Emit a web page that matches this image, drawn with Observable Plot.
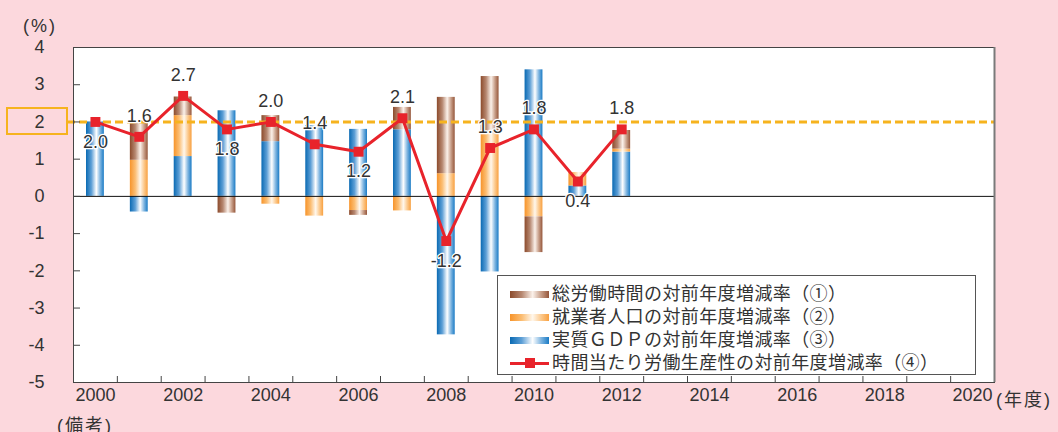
<!DOCTYPE html>
<html>
<head>
<meta charset="utf-8">
<script src="https://cdn.jsdelivr.net/npm/d3@7"></script>
<script src="https://cdn.jsdelivr.net/npm/@observablehq/plot@0.6"></script>
<style>
  html, body { margin: 0; padding: 0; background: #fcd8dd; }
  #wrap { position: relative; width: 1058px; height: 432px; overflow: hidden; background: #fcd8dd;
          font-family: "Liberation Sans", "Noto Sans CJK JP", sans-serif; color: #333; }
  #chart { position: absolute; left: 0; top: 0; }
  .note { position: absolute; font-size: 18px; line-height: 1; white-space: nowrap; color: #333;
          font-family: "Liberation Sans", "Noto Sans CJK JP", sans-serif; }
  #box2 { position: absolute; left: 6px; top: 107px; width: 58px; height: 24px; border: 2px solid #f6b31e; }
  #legend { position: absolute; left: 497px; top: 275px; width: 479px; height: 100px; background: #fff;
            border: 1px solid #555; box-sizing: border-box; }
  .row { position: absolute; left: 12px; height: 20px; display: flex; align-items: center; line-height: 1;
         font-family: "Liberation Sans", "Noto Sans CJK JP", sans-serif; font-size: 18px; letter-spacing: 0.4px; color: #333; white-space: nowrap; }
  .row span { line-height: 1; }
  .sw { width: 39px; height: 7px; margin-right: 3px; position: relative; }
  .sw.line { height: 3px; background: #e8232b; }
  .sw.line::after { content: ""; position: absolute; left: 15px; top: -4px; width: 10px; height: 10px; background: #e8232b; }
</style>
</head>
<body>
<div id="wrap">
  <div id="chart"></div>
  <div id="box2"></div>
  <div class="note" style="left:23px; top:17px; letter-spacing:2px;">(%)</div>
  <div class="note" style="left:996px; top:391px; letter-spacing:2px;">(年度)</div>
  <div class="note" style="left:57px; top:417px; letter-spacing:2px;">(備考)</div>
  <div id="legend"></div>
</div>
<script>
// ---- data ----
const years = [2000, 2001, 2002, 2003, 2004, 2005, 2006, 2007, 2008, 2009, 2010, 2011, 2012];
// ① 総労働時間の対前年度増減率 (as drawn)
const hoursChange     = [0, 1.0, 0.5, -0.45, 0.7, 0, -0.13, 0.6, 2.05, 1.54, -0.96, 0, 0.5];
// ② 就業者人口の対前年度増減率
const employeesChange = [0, 0.97, 1.1, 0, -0.21, -0.53, -0.38, -0.39, 0.61, 1.68, -0.55, 0.36, 0.08];
// ③ 実質GDPの対前年度増減率
const gdpChange       = [2.0, -0.42, 1.07, 2.3, 1.47, 1.9, 1.8, 1.79, -3.72, -2.03, 3.4, 0.28, 1.19];
// ④ 時間当たり労働生産性の対前年度増減率
const productivity    = [2.0, 1.6, 2.7, 1.8, 2.0, 1.4, 1.2, 2.1, -1.2, 1.3, 1.8, 0.4, 1.8];
const labelSide       = ["below","above","above","below","above","above","below","above","below","above","above","below","above"];
const targetLine = [2];
const xTickLabels = [2000, 2002, 2004, 2006, 2008, 2010, 2012, 2014, 2016, 2018, 2020];
const yTickLabels = [4, 3, 2, 1, 0, -1, -2, -3, -4, -5];
const seriesNames = [
  "実質ＧＤＰの対前年度増減率（③）",
  "就業者人口の対前年度増減率（②）",
  "総労働時間の対前年度増減率（①）"
];
const lineName = "時間当たり労働生産性の対前年度増減率（④）";

// ---- build tables ----
const barRows = [];
years.forEach((y, i) => {
  [[seriesNames[0], gdpChange[i]], [seriesNames[1], employeesChange[i]], [seriesNames[2], hoursChange[i]]]
    .forEach(([s, v]) => { if (v !== 0) barRows.push({year: y, series: s, value: v}); });
});
const lineRows = years.map((y, i) => ({year: y, value: productivity[i], side: labelSide[i]}));

const RED = "#e8232b";
const ORANGE = "#f6b31e";
const FONT = "'Liberation Sans', 'Noto Sans CJK JP', sans-serif";

const plot = Plot.plot({
  width: 1058,
  height: 432,
  marginLeft: 73,
  marginRight: 64,
  marginTop: 47,
  marginBottom: 50,
  style: {background: "transparent", fontFamily: FONT, fontSize: "18px", color: "#333", overflow: "visible"},
  x: {domain: [2000, 2021], axis: null},
  y: {domain: [-5, 4], axis: null},
  color: {domain: seriesNames, range: ["url(#gBlue)", "url(#gOrange)", "url(#gBrown)"]},
  marks: [
    Plot.frame({fill: "white", stroke: null}),
    Plot.rectY(barRows, {x: "year", interval: 1, y: "value", fill: "series", insetLeft: 13, insetRight: 13}),
    Plot.ruleY([0], {stroke: "#111", strokeWidth: 1}),
    Plot.ruleY(targetLine, {stroke: ORANGE, strokeWidth: 3, strokeDasharray: "8,4", insetLeft: -6}),
    Plot.line(lineRows, {x: d => d.year + 0.5, y: "value", stroke: RED, strokeWidth: 3}),
    Plot.dot(lineRows, {x: d => d.year + 0.5, y: "value", symbol: "square", r: 5.6, fill: RED, stroke: null}),
    Plot.text(lineRows.filter(d => d.side === "above"), {
      x: d => d.year + 0.5, y: "value", text: d => d.value.toFixed(1), dy: -21,
      fontSize: 18, fill: "#333", stroke: "white", strokeWidth: 2.5
    }),
    Plot.text(lineRows.filter(d => d.side === "below"), {
      x: d => d.year + 0.5, y: "value", text: d => d.value.toFixed(1), dy: 20,
      fontSize: 18, fill: "#333", stroke: "white", strokeWidth: 2.5
    }),
    // axes
    Plot.tickY(yTickLabels, {y: d => d, insetRight: 914, stroke: "#444"}),
    Plot.tickX(d3.range(2001, 2021), {x: d => d, insetTop: 329, stroke: "#444"}),
    Plot.frame({stroke: "#444"}),
    Plot.ruleX([2021], {stroke: "#7a7a7a", strokeWidth: 2}),
    Plot.text(yTickLabels, {y: d => d, text: d => String(d), frameAnchor: "left", textAnchor: "end", dx: -29, fontSize: 18, fill: "#333"}),
    Plot.text(xTickLabels, {x: d => d + 0.5, text: d => String(d), frameAnchor: "bottom", dy: 18, fontSize: 18, fill: "#333"})
  ]
});

document.getElementById("chart").appendChild(plot);

// gradients for cylinder-like bars
const defs = d3.select(plot).insert("defs", ":first-child");
function grad(id, stops) {
  const g = defs.append("linearGradient").attr("id", id).attr("x1", 0).attr("x2", 1).attr("y1", 0).attr("y2", 0);
  stops.forEach(([o, c]) => g.append("stop").attr("offset", o).attr("stop-color", c));
}
grad("gBlue",   [[0, "#0a6ab3"], [0.3, "#5d9fd6"], [0.58, "#ffffff"], [0.8, "#7db4e0"], [1, "#1a7bc5"]]);
grad("gOrange", [[0, "#f7942a"], [0.3, "#fbbd72"], [0.58, "#fff7ec"], [0.8, "#fcc98c"], [1, "#f8a040"]]);
grad("gBrown",  [[0, "#8c4b2c"], [0.3, "#b68770"], [0.58, "#fbf1ea"], [0.8, "#c79d87"], [1, "#95563a"]]);

// legend
const legendItems = [
  {name: seriesNames[2], css: "linear-gradient(to right,#8c4b2c,#b68770 30%,#fbf1ea 58%,#c79d87 80%,#95563a)"},
  {name: seriesNames[1], css: "linear-gradient(to right,#f7942a,#fbbd72 30%,#fff7ec 58%,#fcc98c 80%,#f8a040)"},
  {name: seriesNames[0], css: "linear-gradient(to right,#0a6ab3,#5d9fd6 30%,#ffffff 58%,#7db4e0 80%,#1a7bc5)"},
  {name: lineName, css: null}
];
const legend = document.getElementById("legend");
legendItems.forEach((it, i) => {
  const row = document.createElement("div");
  row.className = "row";
  row.style.top = (8 + i * 23) + "px";
  const sw = document.createElement("div");
  sw.className = it.css ? "sw" : "sw line";
  if (it.css) sw.style.background = it.css;
  const t = document.createElement("span");
  t.textContent = it.name;
  row.appendChild(sw); row.appendChild(t);
  legend.appendChild(row);
});
</script>
</body>
</html>
